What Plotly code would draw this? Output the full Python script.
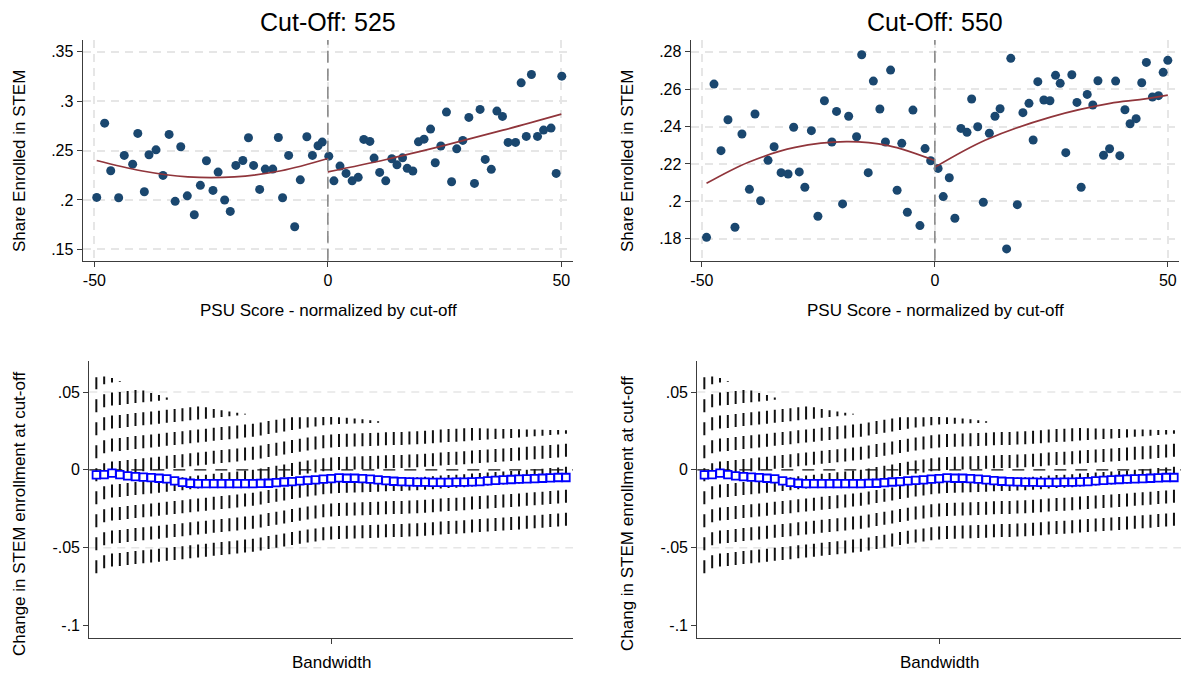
import plotly.graph_objects as go

# ---------------- data: top-left panel (cut-off 525) ----------------
score_525 = [-49.5, -47.8, -46.5, -44.8, -43.6, -41.8, -40.7, -39.3, -38.3, -36.8,
             -35.3, -34.0, -32.7, -31.5, -30.1, -28.6, -27.3, -26.0, -24.6, -23.5,
             -22.1, -20.9, -19.7, -18.2, -17.0, -15.9, -14.6, -13.4, -11.8, -10.6,
             -9.7, -8.4, -7.1, -5.9, -4.5, -3.3, -2.1, -1.2, 0.2,
             1.3, 2.6, 3.9, 5.2, 6.5, 7.7, 9.0, 9.9, 11.1, 12.4, 13.7, 14.8, 16.0,
             17.0, 18.2, 19.4, 20.6, 22.0, 23.0, 24.2, 25.4, 26.5, 27.6, 28.9, 30.2,
             31.4, 32.6, 33.7, 35.0, 36.2, 37.4, 38.6, 40.2, 41.4, 42.5, 43.6, 44.9,
             46.2, 47.8, 48.9, 50.1]
share_525 = [0.2026, 0.2778, 0.2296, 0.2022, 0.2451, 0.2363, 0.2674, 0.2083, 0.2458, 0.2508,
             0.2249, 0.2664, 0.1986, 0.2539, 0.2042, 0.1850, 0.2148, 0.2397, 0.2097, 0.2282,
             0.2000, 0.1884, 0.2350, 0.2400, 0.2630, 0.2350, 0.2107, 0.2313, 0.2313, 0.2633,
             0.2022, 0.2451, 0.1729, 0.2204, 0.2640, 0.2451, 0.2549, 0.2586, 0.2444,
             0.2194, 0.2343, 0.2269, 0.2194, 0.2229, 0.2613, 0.2593, 0.2424, 0.2279, 0.2194,
             0.2417, 0.2356, 0.2427, 0.2320, 0.2293, 0.2589, 0.2616, 0.2718, 0.2377, 0.2546,
             0.2890, 0.2184, 0.2518, 0.2603, 0.2836, 0.2168, 0.2917, 0.2411, 0.2310, 0.2900,
             0.2846, 0.2583, 0.2583, 0.3186, 0.2644, 0.3271, 0.2644, 0.2708, 0.2728, 0.2269,
             0.3254]
fitL_x_525 = [-49.5, -40, -30, -20, -10, 0]
fitL_y_525 = [0.2400, 0.2296, 0.2234, 0.2234, 0.2296, 0.2420]
fitR_x_525 = [0, 12.5, 25, 37.5, 50]
fitR_y_525 = [0.2285, 0.2410, 0.2553, 0.2707, 0.2870]

# ---------------- data: top-right panel (cut-off 550) ----------------
score_550 = [-49.0, -47.4, -45.9, -44.4, -42.9, -41.4, -39.8, -38.6, -37.4, -35.8,
             -34.5, -33.0, -31.5, -30.3, -29.1, -27.9, -26.5, -25.1, -23.7, -22.1,
             -21.1, -19.8, -18.5, -16.8, -15.7, -14.3, -13.2, -11.8, -10.6, -9.5,
             -8.1, -7.1, -5.9, -4.7, -3.2, -2.1, -0.9,
             0.7, 1.8, 3.1, 4.3, 5.6, 6.9, 7.9, 9.2, 10.4, 11.7, 12.9, 14.0, 15.4,
             16.3, 17.7, 18.9, 20.2, 21.1, 22.1, 23.4, 24.7, 25.9, 26.9, 28.1, 29.4,
             30.5, 31.4, 32.7, 33.9, 35.0, 36.2, 37.5, 38.8, 39.7, 40.8, 41.9, 43.2,
             44.4, 45.4, 46.7, 48.0, 49.0, 50.0]
share_550 = [0.1807, 0.2627, 0.2271, 0.2436, 0.1861, 0.2360, 0.2064, 0.2467, 0.2003, 0.2219,
             0.2292, 0.2153, 0.2146, 0.2396, 0.2157, 0.2075, 0.2378, 0.1920, 0.2538, 0.2317,
             0.2481, 0.1986, 0.2455, 0.2345, 0.2784, 0.2153, 0.2643, 0.2494, 0.2317, 0.2702,
             0.2059, 0.2310, 0.1941, 0.2488, 0.1870, 0.2282, 0.2217,
             0.2176, 0.2025, 0.2126, 0.1909, 0.2390, 0.2369, 0.2547, 0.2399, 0.1995, 0.2364,
             0.2455, 0.2495, 0.1745, 0.2765, 0.1982, 0.2474, 0.2524, 0.2328, 0.2640, 0.2542,
             0.2538, 0.2674, 0.2631, 0.2260, 0.2677, 0.2529, 0.2075, 0.2572, 0.2515, 0.2645,
             0.2246, 0.2281, 0.2643, 0.2244, 0.2490, 0.2415, 0.2442, 0.2634, 0.2743, 0.2558,
             0.2565, 0.2690, 0.2754]
fitL_x_550 = [-49, -40, -30, -19, -10, 0]
fitL_y_550 = [0.2096, 0.2209, 0.2288, 0.2319, 0.2298, 0.2218]
fitR_x_550 = [0, 10.9, 25, 37.6, 44, 50]
fitR_y_550 = [0.2182, 0.2328, 0.2452, 0.2524, 0.2544, 0.2568]

# ---------------- data: bottom panels (bandwidth sensitivity) ----------------
bandwidth = list(range(20, 81))
estimate = [-0.0032, -0.0030, -0.0021, -0.0030, -0.0039, -0.0043, -0.0047, -0.0050, -0.0054, -0.0058,
            -0.0071, -0.0081, -0.0086, -0.0088, -0.0089, -0.0089, -0.0089, -0.0089, -0.0088, -0.0088,
            -0.0088, -0.0087, -0.0086, -0.0082, -0.0078, -0.0075, -0.0071, -0.0067, -0.0064, -0.0060,
            -0.0056, -0.0051, -0.0054, -0.0054, -0.0056, -0.0060, -0.0064, -0.0069, -0.0073, -0.0075,
            -0.0077, -0.0079, -0.0079, -0.0081, -0.0081, -0.0081, -0.0079, -0.0079, -0.0077, -0.0075,
            -0.0071, -0.0067, -0.0064, -0.0062, -0.0060, -0.0058, -0.0056, -0.0054, -0.0052, -0.0049,
            -0.0049]
ci_lower = [-0.0665, -0.0633, -0.0622, -0.0618, -0.0611, -0.0605, -0.0600, -0.0595, -0.0590, -0.0585,
            -0.0580, -0.0574, -0.0569, -0.0563, -0.0558, -0.0552, -0.0547, -0.0542, -0.0537, -0.0531,
            -0.0526, -0.0518, -0.0509, -0.0500, -0.0492, -0.0483, -0.0475, -0.0467, -0.0460, -0.0453,
            -0.0447, -0.0445, -0.0443, -0.0441, -0.0440, -0.0438, -0.0436, -0.0434, -0.0432, -0.0431,
            -0.0429, -0.0426, -0.0423, -0.0420, -0.0416, -0.0413, -0.0410, -0.0407, -0.0403, -0.0400,
            -0.0397, -0.0393, -0.0390, -0.0386, -0.0383, -0.0379, -0.0376, -0.0372, -0.0368, -0.0364,
            -0.0360]
ci_upper = [0.0595, 0.0600, 0.0590, 0.0570, 0.0540, 0.0525, 0.0510, 0.0495, 0.0482, 0.0465,
            0.0450, 0.0437, 0.0425, 0.0413, 0.0402, 0.0392, 0.0383, 0.0375, 0.0368, 0.0361,
            0.0355, 0.0348, 0.0344, 0.0341, 0.0339, 0.0338, 0.0338, 0.0338, 0.0339, 0.0340,
            0.0340, 0.0338, 0.0335, 0.0330, 0.0325, 0.0319, 0.0313, 0.0306, 0.0299, 0.0292,
            0.0288, 0.0285, 0.0282, 0.0280, 0.0278, 0.0276, 0.0274, 0.0272, 0.0270, 0.0268,
            0.0266, 0.0265, 0.0263, 0.0262, 0.0261, 0.0260, 0.0259, 0.0258, 0.0257, 0.0256,
            0.0255]

# tick labels
x_ticks_top = [-50, 0, 50]
x_ticklabels_top = ["-50", "0", "50"]
y_ticks_525 = [0.15, 0.2, 0.25, 0.3, 0.35]
y_ticklabels_525 = [".15", ".2", ".25", ".3", ".35"]
y_ticks_550 = [0.18, 0.2, 0.22, 0.24, 0.26, 0.28]
y_ticklabels_550 = [".18", ".2", ".22", ".24", ".26", ".28"]
y_ticks_bot = [-0.1, -0.05, 0, 0.05]
y_ticklabels_bot = ["-.1", "-.05", "0", ".05"]
grid_bot = [-0.05, 0.05]

FONT = "Arial, 'Liberation Sans', sans-serif"
NAVY = "#1a476f"
MAROON = "#90353b"
AXC = "#3c3c3c"
GRID = "#e6e6e6"
W, H = 1183, 675

fig = go.Figure()

def px_x(p):
    return p / W

def px_y(p):
    return 1 - p / H

# ----- top panels -----
for xa, ya, xs, ys, flx, fly, frx, fry in [
        ("x", "y", score_525, share_525, fitL_x_525, fitL_y_525, fitR_x_525, fitR_y_525),
        ("x2", "y2", score_550, share_550, fitL_x_550, fitL_y_550, fitR_x_550, fitR_y_550)]:
    fig.add_trace(go.Scatter(x=xs, y=ys, mode="markers", xaxis=xa, yaxis=ya,
                             marker=dict(color=NAVY, size=9, line=dict(width=0)),
                             showlegend=False, hoverinfo="skip"))
    for fx, fy in [(flx, fly), (frx, fry)]:
        fig.add_trace(go.Scatter(x=fx, y=fy, mode="lines", xaxis=xa, yaxis=ya,
                                 line=dict(color=MAROON, width=1.7, shape="spline", smoothing=1.0),
                                 showlegend=False, hoverinfo="skip"))

# ----- bottom panels -----
for xa, ya in [("x3", "y3"), ("x4", "y4")]:
    for b, lo, hi in zip(bandwidth, ci_lower, ci_upper):
        fig.add_trace(go.Scatter(x=[b, b], y=[lo, hi], mode="lines", xaxis=xa, yaxis=ya,
                                 line=dict(color="#111111", width=2, dash="13px,10px"),
                                 showlegend=False, hoverinfo="skip"))
    fig.add_trace(go.Scatter(x=bandwidth, y=estimate, mode="lines+markers", xaxis=xa, yaxis=ya,
                             line=dict(color="#0000ff", width=1.8),
                             marker=dict(symbol="square", size=7.5, color="white",
                                         line=dict(color="#0000ff", width=1.8)),
                             showlegend=False, hoverinfo="skip"))

axis_common = dict(showline=True, linecolor=AXC, linewidth=1.2, ticks="outside",
                   ticklen=5, tickwidth=1.2, tickcolor=AXC, zeroline=False,
                   tickfont=dict(family=FONT, size=16, color="#000"))

grid_common = dict(showgrid=True, gridcolor=GRID, gridwidth=1.5, griddash="8px,6px")

layout = dict(
    width=W, height=H, margin=dict(l=0, r=0, t=0, b=0),
    paper_bgcolor="white", plot_bgcolor="white", showlegend=False,
    font=dict(family=FONT, color="#000"),
    xaxis=dict(domain=[px_x(82.7), px_x(573)], anchor="y", range=[-52.5, 52.5],
               tickvals=x_ticks_top, ticktext=x_ticklabels_top, **grid_common, **axis_common),
    yaxis=dict(domain=[px_y(260.7), px_y(40)], anchor="x", range=[0.1385, 0.362],
               tickvals=y_ticks_525, ticktext=y_ticklabels_525, **grid_common, **axis_common),
    xaxis2=dict(domain=[px_x(690.7), px_x(1179)], anchor="y2", range=[-52.4, 52.4],
                tickvals=x_ticks_top, ticktext=x_ticklabels_top, **grid_common, **axis_common),
    yaxis2=dict(domain=[px_y(260.7), px_y(40)], anchor="x2", range=[0.1682, 0.2863],
                tickvals=y_ticks_550, ticktext=y_ticklabels_550, **grid_common, **axis_common),
    xaxis3=dict(domain=[px_x(89.3), px_x(573)], anchor="y3", range=[19.1, 80.9],
                tickvals=[50], ticktext=[""], showgrid=False, **axis_common),
    yaxis3=dict(domain=[px_y(638), px_y(361)], anchor="x3", range=[-0.1081, 0.07],
                tickvals=y_ticks_bot, ticktext=y_ticklabels_bot, showgrid=False, **axis_common),
    xaxis4=dict(domain=[px_x(697.3), px_x(1181)], anchor="y4", range=[19.1, 80.9],
                tickvals=[50], ticktext=[""], showgrid=False, **axis_common),
    yaxis4=dict(domain=[px_y(638), px_y(361)], anchor="x4", range=[-0.1081, 0.07],
                tickvals=y_ticks_bot, ticktext=y_ticklabels_bot, showgrid=False, **axis_common),
)
fig.update_layout(**layout)

shapes = []
# cut-off lines in top panels
for xr, yr in [("x", "y"), ("x2", "y2")]:
    shapes.append(dict(type="line", xref=xr, yref=yr + " domain", x0=0, x1=0, y0=0, y1=1,
                       line=dict(color="#8a8a8a", width=1.6, dash="12px,6px"), layer="above"))
# bottom gridlines and zero line
for xr, yr in [("x3", "y3"), ("x4", "y4")]:
    for g in grid_bot:
        shapes.append(dict(type="line", xref=xr + " domain", yref=yr, x0=0, x1=1, y0=g, y1=g,
                           line=dict(color=GRID, width=1.5, dash="8px,6px"), layer="below"))
    shapes.append(dict(type="line", xref=xr + " domain", yref=yr, x0=0, x1=1, y0=0, y1=0,
                       line=dict(color="#111111", width=1.3, dash="12px,9px"), layer="below"))
fig.update_layout(shapes=shapes)

ann = []
def text(t, x, y, size, angle=0):
    ann.append(dict(text=t, x=px_x(x), y=px_y(y), xref="paper", yref="paper",
                    xanchor="center", yanchor="middle", showarrow=False, textangle=angle,
                    font=dict(family=FONT, size=size, color="#000")))

text("Cut-Off: 525", 328, 22, 25)
text("Cut-Off: 550", 935, 22, 25)
text("Share Enrolled in STEM", 19, 161, 17, -90)
text("Share Enrolled in STEM", 627, 161, 17, -90)
text("PSU Score - normalized by cut-off", 328, 310, 17)
text("PSU Score - normalized by cut-off", 935, 310, 17)
text("Change in STEM enrollment at cut-off", 19, 514, 17, -90)
text("Chang in STEM enrollment at cut-off", 627, 514, 17, -90)
text("Bandwidth", 331, 662, 17)
text("Bandwidth", 939, 662, 17)
fig.update_layout(annotations=ann)

fig.write_html("out.html")
